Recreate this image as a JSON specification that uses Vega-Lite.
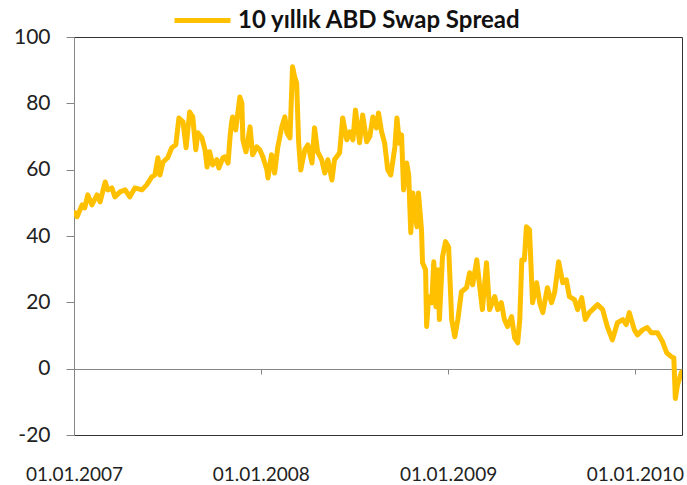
{
  "$schema": "https://vega.github.io/schema/vega-lite/v6.json",
  "width": 608,
  "height": 398,
  "autosize": {"type": "none"},
  "padding": {"left": 74, "top": 37, "right": 5, "bottom": 50},
  "background": "#ffffff",
  "config": {
    "font": "Lato",
    "view": {"stroke": "#333333", "strokeWidth": 1},
    "axis": {"grid": false, "labelFont": "Lato", "labelColor": "#222222"}
  },
  "data": {
    "values": [
      {"date": "2007-01-03", "spread": 47.0},
      {"date": "2007-01-07", "spread": 45.8},
      {"date": "2007-01-17", "spread": 49.4},
      {"date": "2007-01-22", "spread": 48.5},
      {"date": "2007-01-28", "spread": 52.4},
      {"date": "2007-02-05", "spread": 49.4},
      {"date": "2007-02-15", "spread": 52.4},
      {"date": "2007-02-21", "spread": 50.3},
      {"date": "2007-03-03", "spread": 56.3},
      {"date": "2007-03-08", "spread": 53.9},
      {"date": "2007-03-16", "spread": 54.5},
      {"date": "2007-03-22", "spread": 51.8},
      {"date": "2007-04-01", "spread": 53.3},
      {"date": "2007-04-11", "spread": 53.9},
      {"date": "2007-04-20", "spread": 51.8},
      {"date": "2007-04-30", "spread": 54.5},
      {"date": "2007-05-14", "spread": 53.9},
      {"date": "2007-05-23", "spread": 55.4},
      {"date": "2007-06-02", "spread": 57.8},
      {"date": "2007-06-08", "spread": 58.4},
      {"date": "2007-06-14", "spread": 63.6},
      {"date": "2007-06-18", "spread": 58.4},
      {"date": "2007-06-24", "spread": 62.3},
      {"date": "2007-07-03", "spread": 63.6},
      {"date": "2007-07-11", "spread": 66.6},
      {"date": "2007-07-19", "spread": 67.5},
      {"date": "2007-07-25", "spread": 75.6},
      {"date": "2007-08-02", "spread": 74.4},
      {"date": "2007-08-08", "spread": 66.6},
      {"date": "2007-08-15", "spread": 77.4},
      {"date": "2007-08-21", "spread": 75.9},
      {"date": "2007-08-27", "spread": 66.0},
      {"date": "2007-08-31", "spread": 71.1},
      {"date": "2007-09-08", "spread": 69.6},
      {"date": "2007-09-14", "spread": 66.0},
      {"date": "2007-09-18", "spread": 60.8},
      {"date": "2007-09-23", "spread": 65.4},
      {"date": "2007-09-29", "spread": 61.4},
      {"date": "2007-10-07", "spread": 63.0},
      {"date": "2007-10-11", "spread": 60.5},
      {"date": "2007-10-19", "spread": 63.6},
      {"date": "2007-10-23", "spread": 63.9},
      {"date": "2007-10-29", "spread": 62.0},
      {"date": "2007-11-02", "spread": 70.0},
      {"date": "2007-11-05", "spread": 74.4},
      {"date": "2007-11-07", "spread": 75.9},
      {"date": "2007-11-13", "spread": 72.0},
      {"date": "2007-11-21", "spread": 81.9},
      {"date": "2007-11-25", "spread": 80.1},
      {"date": "2007-11-27", "spread": 69.0},
      {"date": "2007-12-03", "spread": 65.4},
      {"date": "2007-12-11", "spread": 72.9},
      {"date": "2007-12-16", "spread": 64.5},
      {"date": "2007-12-24", "spread": 66.9},
      {"date": "2007-12-30", "spread": 66.0},
      {"date": "2008-01-05", "spread": 63.9},
      {"date": "2008-01-13", "spread": 59.9},
      {"date": "2008-01-15", "spread": 57.5},
      {"date": "2008-01-22", "spread": 64.5},
      {"date": "2008-01-28", "spread": 59.0},
      {"date": "2008-02-03", "spread": 66.6},
      {"date": "2008-02-11", "spread": 72.9},
      {"date": "2008-02-17", "spread": 75.9},
      {"date": "2008-02-21", "spread": 71.1},
      {"date": "2008-02-27", "spread": 69.6},
      {"date": "2008-03-03", "spread": 91.0},
      {"date": "2008-03-07", "spread": 88.0},
      {"date": "2008-03-11", "spread": 86.1},
      {"date": "2008-03-15", "spread": 68.1},
      {"date": "2008-03-19", "spread": 59.9},
      {"date": "2008-03-27", "spread": 66.0},
      {"date": "2008-04-02", "spread": 67.5},
      {"date": "2008-04-10", "spread": 62.0},
      {"date": "2008-04-15", "spread": 72.6},
      {"date": "2008-04-21", "spread": 65.4},
      {"date": "2008-04-29", "spread": 63.0},
      {"date": "2008-05-05", "spread": 59.0},
      {"date": "2008-05-11", "spread": 63.0},
      {"date": "2008-05-19", "spread": 56.9},
      {"date": "2008-05-24", "spread": 63.0},
      {"date": "2008-06-03", "spread": 65.1},
      {"date": "2008-06-09", "spread": 75.6},
      {"date": "2008-06-17", "spread": 69.0},
      {"date": "2008-06-23", "spread": 71.4},
      {"date": "2008-06-29", "spread": 69.0},
      {"date": "2008-07-04", "spread": 78.0},
      {"date": "2008-07-12", "spread": 68.1},
      {"date": "2008-07-18", "spread": 76.5},
      {"date": "2008-07-26", "spread": 68.4},
      {"date": "2008-08-01", "spread": 70.0},
      {"date": "2008-08-07", "spread": 75.9},
      {"date": "2008-08-14", "spread": 72.6},
      {"date": "2008-08-18", "spread": 77.1},
      {"date": "2008-08-24", "spread": 71.4},
      {"date": "2008-08-30", "spread": 68.0},
      {"date": "2008-09-05", "spread": 60.0},
      {"date": "2008-09-11", "spread": 58.4},
      {"date": "2008-09-19", "spread": 66.9},
      {"date": "2008-09-23", "spread": 75.6},
      {"date": "2008-09-28", "spread": 68.0},
      {"date": "2008-10-02", "spread": 70.5},
      {"date": "2008-10-06", "spread": 53.9},
      {"date": "2008-10-12", "spread": 62.0},
      {"date": "2008-10-16", "spread": 58.4},
      {"date": "2008-10-20", "spread": 41.0},
      {"date": "2008-10-24", "spread": 53.0},
      {"date": "2008-11-01", "spread": 42.8},
      {"date": "2008-11-04", "spread": 53.0},
      {"date": "2008-11-10", "spread": 41.9},
      {"date": "2008-11-12", "spread": 31.9},
      {"date": "2008-11-18", "spread": 29.8},
      {"date": "2008-11-20", "spread": 12.7},
      {"date": "2008-11-24", "spread": 21.7},
      {"date": "2008-11-30", "spread": 19.9},
      {"date": "2008-12-04", "spread": 32.2},
      {"date": "2008-12-08", "spread": 18.7},
      {"date": "2008-12-12", "spread": 29.8},
      {"date": "2008-12-15", "spread": 14.8},
      {"date": "2008-12-21", "spread": 33.7},
      {"date": "2008-12-27", "spread": 38.3},
      {"date": "2009-01-02", "spread": 36.7},
      {"date": "2009-01-08", "spread": 14.8},
      {"date": "2009-01-14", "spread": 9.6},
      {"date": "2009-01-20", "spread": 14.8},
      {"date": "2009-01-27", "spread": 23.2},
      {"date": "2009-02-06", "spread": 24.4},
      {"date": "2009-02-12", "spread": 28.9},
      {"date": "2009-02-18", "spread": 25.3},
      {"date": "2009-02-26", "spread": 32.8},
      {"date": "2009-03-04", "spread": 24.4},
      {"date": "2009-03-09", "spread": 17.8},
      {"date": "2009-03-17", "spread": 31.9},
      {"date": "2009-03-23", "spread": 17.8},
      {"date": "2009-04-02", "spread": 21.7},
      {"date": "2009-04-08", "spread": 17.8},
      {"date": "2009-04-15", "spread": 19.9},
      {"date": "2009-04-21", "spread": 14.8},
      {"date": "2009-04-27", "spread": 12.7},
      {"date": "2009-05-05", "spread": 15.7},
      {"date": "2009-05-11", "spread": 9.3},
      {"date": "2009-05-17", "spread": 7.8},
      {"date": "2009-05-21", "spread": 14.8},
      {"date": "2009-05-25", "spread": 32.8},
      {"date": "2009-05-30", "spread": 32.8},
      {"date": "2009-06-03", "spread": 42.8},
      {"date": "2009-06-09", "spread": 41.9},
      {"date": "2009-06-15", "spread": 19.9},
      {"date": "2009-06-23", "spread": 25.9},
      {"date": "2009-06-29", "spread": 19.9},
      {"date": "2009-07-05", "spread": 16.9},
      {"date": "2009-07-14", "spread": 24.4},
      {"date": "2009-07-22", "spread": 19.9},
      {"date": "2009-07-28", "spread": 22.9},
      {"date": "2009-08-05", "spread": 32.2},
      {"date": "2009-08-13", "spread": 25.9},
      {"date": "2009-08-20", "spread": 26.8},
      {"date": "2009-08-26", "spread": 21.7},
      {"date": "2009-09-05", "spread": 20.8},
      {"date": "2009-09-11", "spread": 17.8},
      {"date": "2009-09-19", "spread": 21.4},
      {"date": "2009-09-26", "spread": 14.8},
      {"date": "2009-10-04", "spread": 16.9},
      {"date": "2009-10-20", "spread": 19.3},
      {"date": "2009-10-30", "spread": 17.8},
      {"date": "2009-11-08", "spread": 12.7},
      {"date": "2009-11-18", "spread": 8.7},
      {"date": "2009-11-28", "spread": 13.9},
      {"date": "2009-12-08", "spread": 14.8},
      {"date": "2009-12-15", "spread": 13.3},
      {"date": "2009-12-21", "spread": 16.9},
      {"date": "2009-12-31", "spread": 11.7},
      {"date": "2010-01-06", "spread": 10.2},
      {"date": "2010-01-16", "spread": 11.7},
      {"date": "2010-01-25", "spread": 12.4},
      {"date": "2010-02-02", "spread": 10.8},
      {"date": "2010-02-14", "spread": 10.8},
      {"date": "2010-02-24", "spread": 8.1},
      {"date": "2010-03-04", "spread": 4.8},
      {"date": "2010-03-13", "spread": 3.6},
      {"date": "2010-03-18", "spread": 3.3},
      {"date": "2010-03-21", "spread": -9.0},
      {"date": "2010-03-25", "spread": -5.0},
      {"date": "2010-04-02", "spread": -1.0}
    ]
  },
  "mark": {"type": "line", "strokeWidth": 5, "strokeJoin": "round", "strokeCap": "round", "clip": true},
  "encoding": {
    "x": {
      "field": "date",
      "type": "temporal",
      "scale": {
        "type": "utc",
        "domain": [
          {"year": 2007, "month": 1, "date": 1, "utc": true},
          {"year": 2010, "month": 4, "date": 3, "utc": true}
        ]
      },
      "axis": {
        "title": null,
        "orient": "bottom",
        "offset": -66,
        "values": [
          {"year": 2007, "month": 1, "date": 1, "utc": true},
          {"year": 2008, "month": 1, "date": 1, "utc": true},
          {"year": 2009, "month": 1, "date": 1, "utc": true},
          {"year": 2010, "month": 1, "date": 1, "utc": true}
        ],
        "labelExpr": "utcFormat(datum.value, '%d.%m.%Y')",
        "domainColor": "#868686",
        "tickColor": "#868686",
        "tickSize": 5,
        "labelFontSize": 19,
        "labelPadding": 91,
        "labelFlush": false,
        "labelOverlap": false,
        "labelBound": false
      }
    },
    "y": {
      "field": "spread",
      "type": "quantitative",
      "scale": {"domain": [-20, 100], "nice": false},
      "axis": {
        "title": null,
        "values": [-20, 0, 20, 40, 60, 80, 100],
        "labelExpr": "datum.value < 0 ? '-' + abs(datum.value) : '' + datum.value",
        "domainColor": "#868686",
        "tickColor": "#868686",
        "tickSize": 8,
        "labelFontSize": 21,
        "labelPadding": 16
      }
    },
    "color": {
      "datum": "10 yıllık ABD Swap Spread",
      "type": "nominal",
      "scale": {"range": ["#FFC000"]},
      "legend": {
        "title": null,
        "orient": "none",
        "legendX": 98,
        "legendY": -47,
        "symbolType": "stroke",
        "symbolSize": 3136,
        "symbolStrokeWidth": 5,
        "labelFontSize": 24,
        "labelFontWeight": "bold",
        "labelColor": "#111111",
        "labelOffset": 5,
        "labelLimit": 400
      }
    }
  }
}
